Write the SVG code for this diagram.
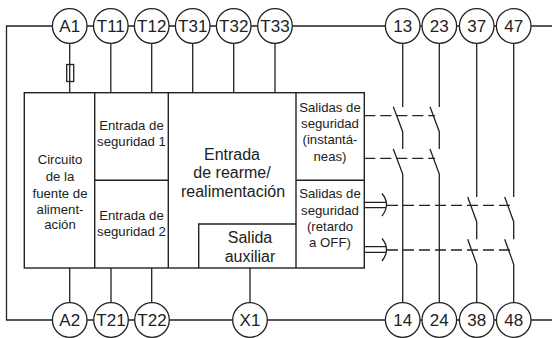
<svg xmlns="http://www.w3.org/2000/svg" width="552" height="338" viewBox="0 0 552 338">
<style>
.l{fill:none;stroke:#222;stroke-width:1.3}
.b{fill:none;stroke:#222;stroke-width:1.4}
.d{fill:none;stroke:#222;stroke-width:1.3;stroke-dasharray:11 5}
.c{fill:#fff;stroke:#222;stroke-width:1.3}
text{font-family:"Liberation Sans",Arial,sans-serif;fill:#222;text-anchor:middle}
.t{font-size:17px}
.s{font-size:13.2px}
.m{font-size:16px}
</style>
<defs><circle id="n" r="17.3" class="c"/></defs>
<g id="connectors">
<path class="l" d="M552 26H6.500V320H552"/>
<path class="l" d="M69.700 26V92.700M110.800 26V92.700M151.700 26V92.700M192.700 26V92.700M233.700 26V92.700M275 26V92.700"/>
<path class="l" d="M69.700 268V320M111 268V320M151.700 268V320M250 268V320"/>
<path class="l" d="M402.700 26V107M393.300 106.700L402.700 131.700V149M393.300 149L402.700 174V320"/>
<path class="l" d="M439.300 26V107M430 106.700L439.300 131.700V149M430 149L439.300 174V320"/>
<path class="l" d="M476.700 26V197M467.700 197L476.700 221.700V239.300M467.700 239.300L476.700 264.300V320"/>
<path class="l" d="M513.700 26V197M504.700 197L513.700 221.700V239.300M504.700 239.300L513.700 264.300V320"/>
<path class="d" d="M364.300 115.700H435"/>
<path class="d" d="M364.300 158.300H435"/>
<path class="d" d="M387 205.300H510"/>
<path class="d" d="M387 250H510"/>
<path class="l" d="M364.300 202.300H386M364.300 207.700H386M364.300 246.700H386M364.300 252.300H386"/>
<path class="l" d="M382 193.500Q391 204.500 382 216M382 238.500Q391 249.500 382 261"/>
</g>
<g id="fuse"><rect x="66.700" y="64.500" width="7" height="17" fill="#fff" stroke="#222" stroke-width="1.300"/><path class="l" d="M69.700 64.500V81.500"/></g>
<g id="box-main"><rect x="24.300" y="92.700" width="340" height="175.300" class="b"/></g>
<g id="power"><path class="b" d="M94.700 92.700V268"/>
<text class="s" x="60" y="164">Circuito</text><text class="s" x="60" y="181">de la</text><text class="s" x="60" y="197.500">fuente de</text><text class="s" x="60" y="213.500">aliment-</text><text class="s" x="60" y="228.500">ación</text></g>
<g id="safety1"><path class="b" d="M168.300 92.700V268"/><text class="s" x="131.500" y="130">Entrada de</text><text class="s" x="131.500" y="146">seguridad 1</text></g>
<g id="safety2"><path class="b" d="M94.700 180.300H168.300"/><text class="s" x="131.500" y="220">Entrada de</text><text class="s" x="131.500" y="236">seguridad 2</text></g>
<g id="reset"><text class="m" x="232" y="160">Entrada</text><text class="m" x="232" y="178">de rearme/</text><text class="m" x="233" y="197">realimentación</text></g>
<g id="aux"><path class="b" d="M198.700 268V224H296"/><text class="m" x="250" y="243">Salida</text><text class="m" x="250" y="262">auxiliar</text></g>
<g id="out-inst"><path class="b" d="M296 92.700V268"/><text class="s" x="330" y="112">Salidas de</text><text class="s" x="330" y="128">seguridad</text><text class="s" x="330" y="144">(instantá-</text><text class="s" x="330" y="161">neas)</text></g>
<g id="out-delay"><path class="b" d="M296 180.300H364.300"/><text class="s" x="330" y="198">Salidas de</text><text class="s" x="330" y="215">seguridad</text><text class="s" x="330" y="231">(retardo</text><text class="s" x="330" y="247">a OFF)</text></g>
<g id="A1"><use href="#n" x="69.700" y="26"/><text class="t" x="69.700" y="32">A1</text></g>
<g id="T11"><use href="#n" x="110.800" y="26"/><text class="t" x="110.800" y="32">T11</text></g>
<g id="T12"><use href="#n" x="151.700" y="26"/><text class="t" x="151.700" y="32">T12</text></g>
<g id="T31"><use href="#n" x="192.700" y="26"/><text class="t" x="192.700" y="32">T31</text></g>
<g id="T32"><use href="#n" x="233.700" y="26"/><text class="t" x="233.700" y="32">T32</text></g>
<g id="T33"><use href="#n" x="275" y="26"/><text class="t" x="275" y="32">T33</text></g>
<g id="n13"><use href="#n" x="402.700" y="26"/><text class="t" x="402.700" y="32">13</text></g>
<g id="n23"><use href="#n" x="439.300" y="26"/><text class="t" x="439.300" y="32">23</text></g>
<g id="n37"><use href="#n" x="476.700" y="26"/><text class="t" x="476.700" y="32">37</text></g>
<g id="n47"><use href="#n" x="513.700" y="26"/><text class="t" x="513.700" y="32">47</text></g>
<g id="A2"><use href="#n" x="69.700" y="320"/><text class="t" x="69.700" y="326">A2</text></g>
<g id="T21"><use href="#n" x="111" y="320"/><text class="t" x="111" y="326">T21</text></g>
<g id="T22"><use href="#n" x="152" y="320"/><text class="t" x="152" y="326">T22</text></g>
<g id="X1"><use href="#n" x="250" y="320"/><text class="t" x="250" y="326">X1</text></g>
<g id="n14"><use href="#n" x="402.700" y="320"/><text class="t" x="402.700" y="326">14</text></g>
<g id="n24"><use href="#n" x="439.300" y="320"/><text class="t" x="439.300" y="326">24</text></g>
<g id="n38"><use href="#n" x="476.700" y="320"/><text class="t" x="476.700" y="326">38</text></g>
<g id="n48"><use href="#n" x="513.700" y="320"/><text class="t" x="513.700" y="326">48</text></g>
</svg>
